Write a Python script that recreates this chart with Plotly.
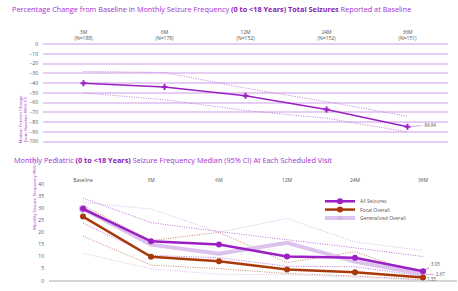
import plotly.graph_objects as go

# ---------------- data ----------------
top_cats = ["3M", "6M", "12M", "24M", "36M"]
top_n = ["(N=188)", "(N=178)", "(N=152)", "(N=152)", "(N=151)"]
top_median = [-40, -44, -53, -67, -84.84]
top_upper = [-28, -29, -45, -59, -74]
top_lower = [-50, -57, -68, -76, -90]

bot_cats = ["Baseline", "3M", "6M", "12M", "24M", "36M"]
all_med = [29.7, 16.3, 15.0, 10.0, 9.5, 3.93]
all_up = [34.1, 24.0, 20.3, 17.0, 13.6, 10.0]
all_lo = [23.8, 10.5, 9.5, 6.0, 5.8, 2.0]
foc_med = [26.5, 9.9, 8.1, 4.7, 3.5, 1.33]
foc_up = [31.0, 16.6, 20.0, 7.5, 12.0, 2.2]
foc_lo = [18.4, 6.5, 5.0, 3.0, 2.0, 0.5]
gen_med = [29.7, 14.9, 11.2, 15.7, 7.9, 2.67]
gen_up = [32.3, 29.6, 20.0, 25.7, 16.0, 12.5]
gen_lo = [11.4, 4.9, 2.7, 2.5, 1.5, 0.3]

H = 291.0
W = 458.0
PURPLE = "#9b1fc4"
FOCAL = "#a83a0a"
GEN = "#dcc2ec"
FONT = "Open Sans"
DOT = "1px,1.4px"

fig = go.Figure()

# ---------------- top chart ----------------
top_ticktext = [f"{c}<br>{n}" for c, n in zip(top_cats, top_n)]
fig.add_trace(go.Scatter(x=top_cats, y=top_upper, mode="lines", xaxis="x", yaxis="y",
                         line=dict(color="#c07ede", width=1, dash=DOT), showlegend=False))
fig.add_trace(go.Scatter(x=top_cats, y=top_lower, mode="lines", xaxis="x", yaxis="y",
                         line=dict(color="#c07ede", width=1, dash=DOT), showlegend=False))
fig.add_trace(go.Scatter(x=top_cats, y=top_median, mode="lines+markers", xaxis="x", yaxis="y",
                         line=dict(color=PURPLE, width=1.5),
                         marker=dict(symbol="cross", size=5, color=PURPLE),
                         showlegend=False))

# ---------------- bottom chart ----------------
def ci(y, color):
    fig.add_trace(go.Scatter(x=bot_cats, y=y, mode="lines", xaxis="x2", yaxis="y2",
                             line=dict(color=color, width=0.9, dash=DOT),
                             showlegend=False, cliponaxis=False))

ci(gen_up, "#d4b4ea")
ci(gen_lo, "#d4b4ea")
ci(all_up, "#b064d6")
ci(all_lo, "#b064d6")
ci(foc_up, "#c4785a")
ci(foc_lo, "#c4785a")

fig.add_trace(go.Scatter(x=bot_cats, y=gen_med, mode="lines+markers", xaxis="x2", yaxis="y2",
                         name="Generalized Overall", legend="legend3",
                         line=dict(color=GEN, width=4),
                         marker=dict(symbol="circle-open", size=[7, 0, 0, 0, 0, 0],
                                     color="#c9a2e0", line=dict(width=1.2)),
                         cliponaxis=False))
fig.add_trace(go.Scatter(x=bot_cats, y=foc_med, mode="lines+markers", xaxis="x2", yaxis="y2",
                         name="Focal Overall", legend="legend2",
                         line=dict(color=FOCAL, width=2.5),
                         marker=dict(symbol="circle", size=6, color=FOCAL),
                         cliponaxis=False))
fig.add_trace(go.Scatter(x=bot_cats, y=all_med, mode="lines+markers", xaxis="x2", yaxis="y2",
                         name="All Seizures", legend="legend",
                         line=dict(color=PURPLE, width=2.5),
                         marker=dict(symbol="circle", size=6, color=PURPLE),
                         cliponaxis=False))

tick_font = dict(family=FONT, size=5, color="#555555")


def py(px):
    return 1 - px / H


annotations = [
    dict(text="Median Percent Change<br>from Baseline (95% CI)", xref="paper", yref="paper",
         x=15 / W, y=py(92), textangle=-90, showarrow=False,
         font=dict(family=FONT, size=4.3, color=PURPLE)),
    dict(text="Monthly Seizure Frequency (95% CI)", xref="paper", yref="paper",
         x=29 / W, y=py(233), textangle=-90, showarrow=False,
         font=dict(family=FONT, size=4.3, color=PURPLE)),
    dict(text="<span style='color:#a030d0'>Monthly Pediatric </span><b>(0 to &lt;18 Years)</b>"
              "<span style='color:#a030d0'> Seizure Frequency Median (95% CI) At Each Scheduled Visit</span>",
         xref="paper", yref="paper", x=12 / W, y=py(160), xanchor="left", yanchor="middle",
         showarrow=False, font=dict(family=FONT, size=7.3, color="#8a1ab8")),
    dict(text=f"{top_median[-1]:.2f}", xref="x", yref="y", x=top_cats[-1], y=top_median[-1],
         ax=22, ay=-2, showarrow=True, arrowhead=0, arrowwidth=0.6, arrowcolor="#b070d0",
         font=dict(family=FONT, size=4.5, color="#555555")),
    dict(text=f"{all_med[-1]:.2f}", xref="x2", yref="y2", x=bot_cats[-1], y=all_med[-1],
         ax=12, ay=-7, showarrow=True, arrowhead=0, arrowwidth=0.6, arrowcolor=PURPLE,
         font=dict(family=FONT, size=4.5, color="#555555")),
    dict(text=f"{gen_med[-1]:.2f}", xref="x2", yref="y2", x=bot_cats[-1], y=gen_med[-1],
         ax=17, ay=0, showarrow=True, arrowhead=0, arrowwidth=0.6, arrowcolor="#b070d0",
         font=dict(family=FONT, size=4.5, color="#555555")),
    dict(text=f"{foc_med[-1]:.2f}", xref="x2", yref="y2", x=bot_cats[-1], y=foc_med[-1],
         showarrow=False, xshift=8, yshift=-1,
         font=dict(family=FONT, size=4.5, color="#555555")),
]

leg_common = dict(xanchor="left", yanchor="middle",
                  font=dict(family=FONT, size=5, color="#555555"),
                  bgcolor="rgba(0,0,0,0)", itemwidth=30, borderwidth=0)

fig.update_layout(
    width=458, height=291,
    margin=dict(l=0, r=0, t=0, b=0),
    paper_bgcolor="white", plot_bgcolor="white",
    font=dict(family=FONT),
    title=dict(text="<span style='color:#a030d0'>Percentage Change from Baseline in Monthly Seizure Frequency </span>"
                    "<b>(0 to &lt;18 Years) Total Seizures</b>"
                    "<span style='color:#a030d0'> Reported at Baseline</span>",
               x=12 / W, xanchor="left", y=py(7), yanchor="middle", xref="paper", yref="paper",
               font=dict(family=FONT, size=7.3, color="#8a1ab8")),
    xaxis=dict(domain=[43 / W, 448 / W], range=[-0.5, 4.5], side="top", anchor="y",
               tickmode="array", tickvals=top_cats, ticktext=top_ticktext,
               showgrid=False, zeroline=False, showline=False, ticks="",
               tickfont=tick_font, fixedrange=True),
    yaxis=dict(domain=[py(143), py(40)], range=[-102, 2], anchor="x",
               tickvals=list(range(-100, 1, 10)), showgrid=True,
               gridcolor="#e6cdf3", gridwidth=1.5, zeroline=False, ticks="",
               ticklabelstandoff=4, tickfont=tick_font),
    xaxis2=dict(domain=[49 / W, 457 / W], range=[-0.5, 5.5], side="top", anchor="y2",
                tickmode="array", tickvals=bot_cats, ticktext=bot_cats,
                showgrid=False, zeroline=False, showline=False, ticks="",
                tickfont=tick_font),
    yaxis2=dict(domain=[py(283.4), py(184)], range=[-0.3, 40], anchor="x2",
                tickvals=list(range(0, 41, 5)), showgrid=False,
                zeroline=True, zerolinecolor="#d6d6d6", zerolinewidth=1.5,
                ticks="", ticklabelstandoff=4, tickfont=tick_font),
    legend=dict(x=320 / W, y=py(201.7), **leg_common),
    legend2=dict(x=320 / W, y=py(210.2), **leg_common),
    legend3=dict(x=320 / W, y=py(218.7), **leg_common),
    annotations=annotations,
)

fig.write_html("out.html")
